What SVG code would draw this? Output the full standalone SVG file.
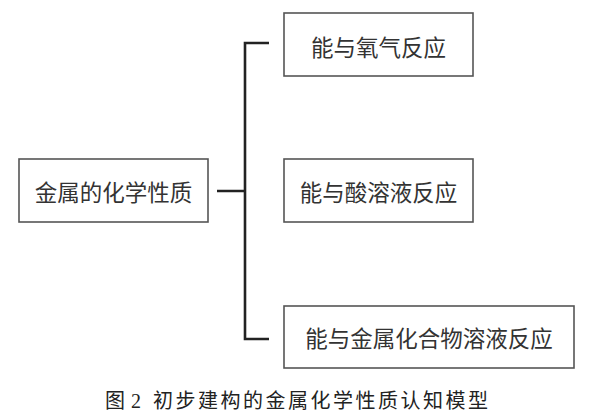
<svg xmlns="http://www.w3.org/2000/svg" width="600" height="420" viewBox="0 0 600 420">
<style>
.box{fill:#fff;stroke:#555;stroke-width:1.6}
.lbl{font-family:"Noto Sans CJK SC","Noto Sans",sans-serif;font-size:22.5px;fill:#333;text-anchor:middle;dominant-baseline:central}
.con{fill:none;stroke:#222;stroke-width:2.6}
.cap{font-family:"Liberation Serif","Noto Sans CJK SC",serif;font-size:20px;fill:#222;dominant-baseline:central}
</style>
<rect width="600" height="420" fill="#fff"/>
<g id="connectors">
<path class="con" d="M217 191 H245 M269 43 H245 V339 H269"/>
</g>
<g id="root">
<rect class="box" x="19" y="159" width="189" height="63"/>
<text class="lbl" x="113.5" y="191">金属的化学性质</text>
</g>
<g id="oxygen">
<rect class="box" x="284" y="13" width="189" height="63"/>
<text class="lbl" x="378.5" y="46">能与氧气反应</text>
</g>
<g id="acid">
<rect class="box" x="284" y="159" width="189" height="63"/>
<text class="lbl" x="378.5" y="191">能与酸溶液反应</text>
</g>
<g id="salt">
<rect class="box" x="284" y="306" width="290" height="62"/>
<text class="lbl" x="429" y="337">能与金属化合物溶液反应</text>
</g>
<g id="caption">
<text class="cap" x="105" y="401">图<tspan x="131">2</tspan><tspan x="153" textLength="335" lengthAdjust="spacing">初步建构的金属化学性质认知模型</tspan></text>
</g>
</svg>
